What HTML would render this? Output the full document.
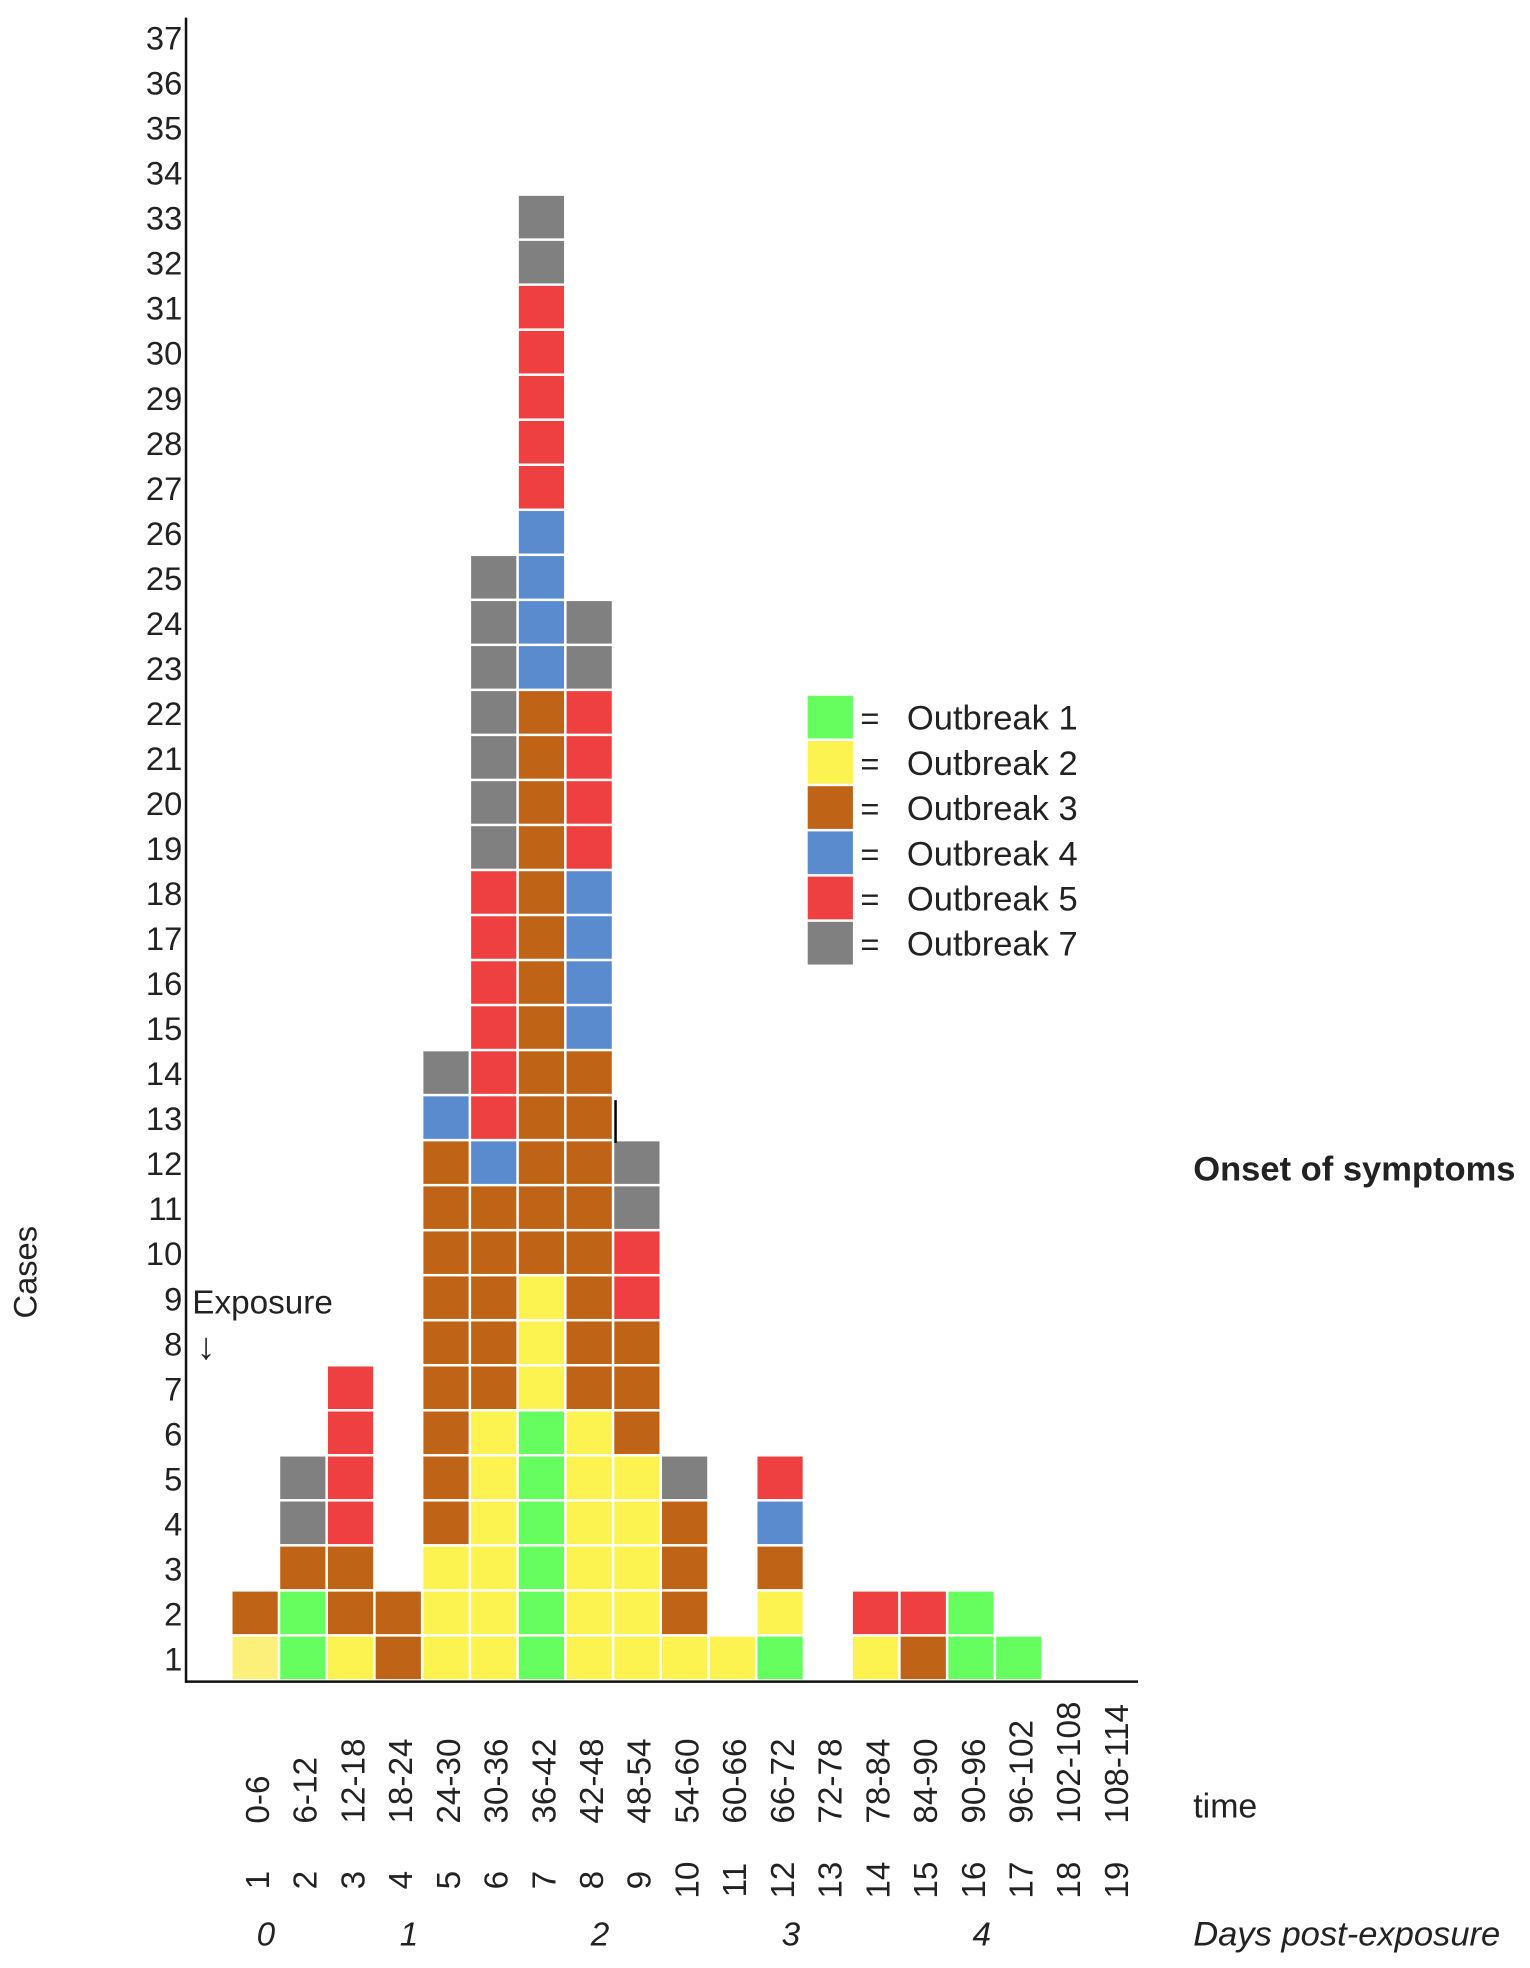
<!DOCTYPE html>
<html><head><meta charset="utf-8"><style>
html,body{margin:0;padding:0;background:#fff}
svg{display:block}
text{font-family:"Liberation Sans Narrow","Liberation Sans",sans-serif;fill:#222}
</style></head><body>
<svg id="chart" width="1530" height="1968" viewBox="0 0 1218 1567" xmlns="http://www.w3.org/2000/svg">
<g id="cells"></g>
<g id="axes"></g>
<g id="legend"></g>
</svg>
<script>
// stacks: outbreak id per case, bottom to top, per 6-hour time bin
const timeLabels = ["0-6","6-12","12-18","18-24","24-30","30-36","36-42","42-48","48-54","54-60","60-66","66-72","72-78","78-84","84-90","90-96","96-102","102-108","108-114"];
const binNumbers = [1,2,3,4,5,6,7,8,9,10,11,12,13,14,15,16,17,18,19];
const col1 = [2,3];
const col2 = [1,1,3,7,7];
const col3 = [2,3,3,5,5,5,5];
const col4 = [3,3];
const col5 = [2,2,2,3,3,3,3,3,3,3,3,3,4,7];
const col6 = [2,2,2,2,2,2,3,3,3,3,3,4,5,5,5,5,5,5,7,7,7,7,7,7,7];
const col7 = [1,1,1,1,1,1,2,2,2,3,3,3,3,3,3,3,3,3,3,3,3,3,4,4,4,4,5,5,5,5,5,7,7];
const col8 = [2,2,2,2,2,2,3,3,3,3,3,3,3,3,4,4,4,4,5,5,5,5,7,7];
const col9 = [2,2,2,2,2,3,3,3,5,5,7,7];
const col10 = [2,3,3,3,7];
const col11 = [2];
const col12 = [1,2,3,4,5];
const col13 = [];
const col14 = [2,5];
const col15 = [3,5];
const col16 = [1,1];
const col17 = [1];
const col18 = [];
const col19 = [];
const stacks = [col1,col2,col3,col4,col5,col6,col7,col8,col9,col10,col11,col12,col13,col14,col15,col16,col17,col18,col19];
const outbreakIds = [1,2,3,4,5,7];
const outbreakColors = {1:"#66fd5e",2:"#fdf350",3:"#bf6416",4:"#5b8bcf",5:"#ee4040",7:"#808080"};
const yTicks = Array.from({length:37},(_,i)=>i+1);
const dayLabels = [0,1,2,3,4];
const dayBinPos = [1.2,4.2,8.2,12.2,16.2];

const NS="http://www.w3.org/2000/svg";
const X0=148, BASE=1339, COLW=38, ROWH=35.85;
const xCol = i => X0 + COLW*i - 1;
const yRow = k => BASE - k*ROWH;
function mk(tag, attrs, parent, txt){
  const e=document.createElementNS(NS,tag);
  for(const k in attrs) e.setAttribute(k,attrs[k]);
  if(txt!==undefined) e.textContent=txt;
  parent.appendChild(e); return e;
}
const cells=document.getElementById('cells'), axes=document.getElementById('axes'), legend=document.getElementById('legend');

stacks.forEach((st,ci)=>{
  st.forEach((ob,k)=>{
    const fill = (ci===0 && k===0) ? "#fdf07a" : outbreakColors[ob];
    const r=mk('rect',{x:xCol(ci+1),y:yRow(k+1),width:COLW-2,height:ROWH-2,fill:fill},cells);
    
    
  });
});
let m=mk('line',{x1:490,y1:876,x2:490,y2:910,stroke:'#000','stroke-width':2},axes);



let ya=mk('line',{x1:X0,y1:14,x2:X0,y2:BASE+1,stroke:'#111','stroke-width':2},axes);


let xa=mk('line',{x1:X0,y1:BASE,x2:906,y2:BASE,stroke:'#111','stroke-width':2},axes);



yTicks.forEach(v=>{
  const t=mk('text',{x:145,y:yRow(v)+ROWH/2+9,'text-anchor':'end','font-size':26},axes,String(v));
  
  
});
timeLabels.forEach((lab,i)=>{
  const cx=xCol(i+1)+COLW/2;
  const t=mk('text',{x:0,y:0,'font-size':26.5,'text-anchor':'start',transform:`translate(${cx+10},1452) rotate(-90)`},axes,lab);
  
  
});
binNumbers.forEach((n,i)=>{
  const cx=xCol(i+1)+COLW/2;
  const t=mk('text',{x:0,y:0,'font-size':26.5,'text-anchor':'middle',transform:`translate(${cx+10},1497) rotate(-90)`},axes,String(n));
  
  
});
dayLabels.forEach((d,i)=>{
  const cx=xCol(dayBinPos[i])+COLW/2;
  const t=mk('text',{x:cx,y:1549,'font-size':26.5,'font-style':'italic','text-anchor':'middle'},axes,String(d));
  
  
});
let tt;
tt=mk('text',{x:950,y:1549,'font-size':27.5,'font-style':'italic'},axes,'Days post-exposure');
 
tt=mk('text',{x:950,y:1447,'font-size':27},axes,'time');
 
tt=mk('text',{x:950,y:940,'font-size':27.5,'font-weight':'bold'},axes,'Onset of symptoms');
 
tt=mk('text',{x:0,y:0,'font-size':26,'text-anchor':'middle',transform:'translate(29,1013) rotate(-90)'},axes,'Cases');
 
tt=mk('text',{x:153,y:1046,'font-size':26.5},axes,'Exposure');
 
tt=mk('text',{x:164,y:1082,'font-size':30,'text-anchor':'middle',fill:'#2a7a2a','font-weight':'bold'},axes,'↓');
 

outbreakIds.forEach((ob,i)=>{
  const y=554+36*i;
  const g=mk('g',{},legend);
  
  
  mk('rect',{x:643,y:y,width:36,height:34,fill:outbreakColors[ob]},g);
  mk('text',{x:685,y:y+27,'font-size':26},g,'=');
  mk('text',{x:722,y:y+27,'font-size':27.5},g,'Outbreak '+ob);
});
</script>
</body></html>
